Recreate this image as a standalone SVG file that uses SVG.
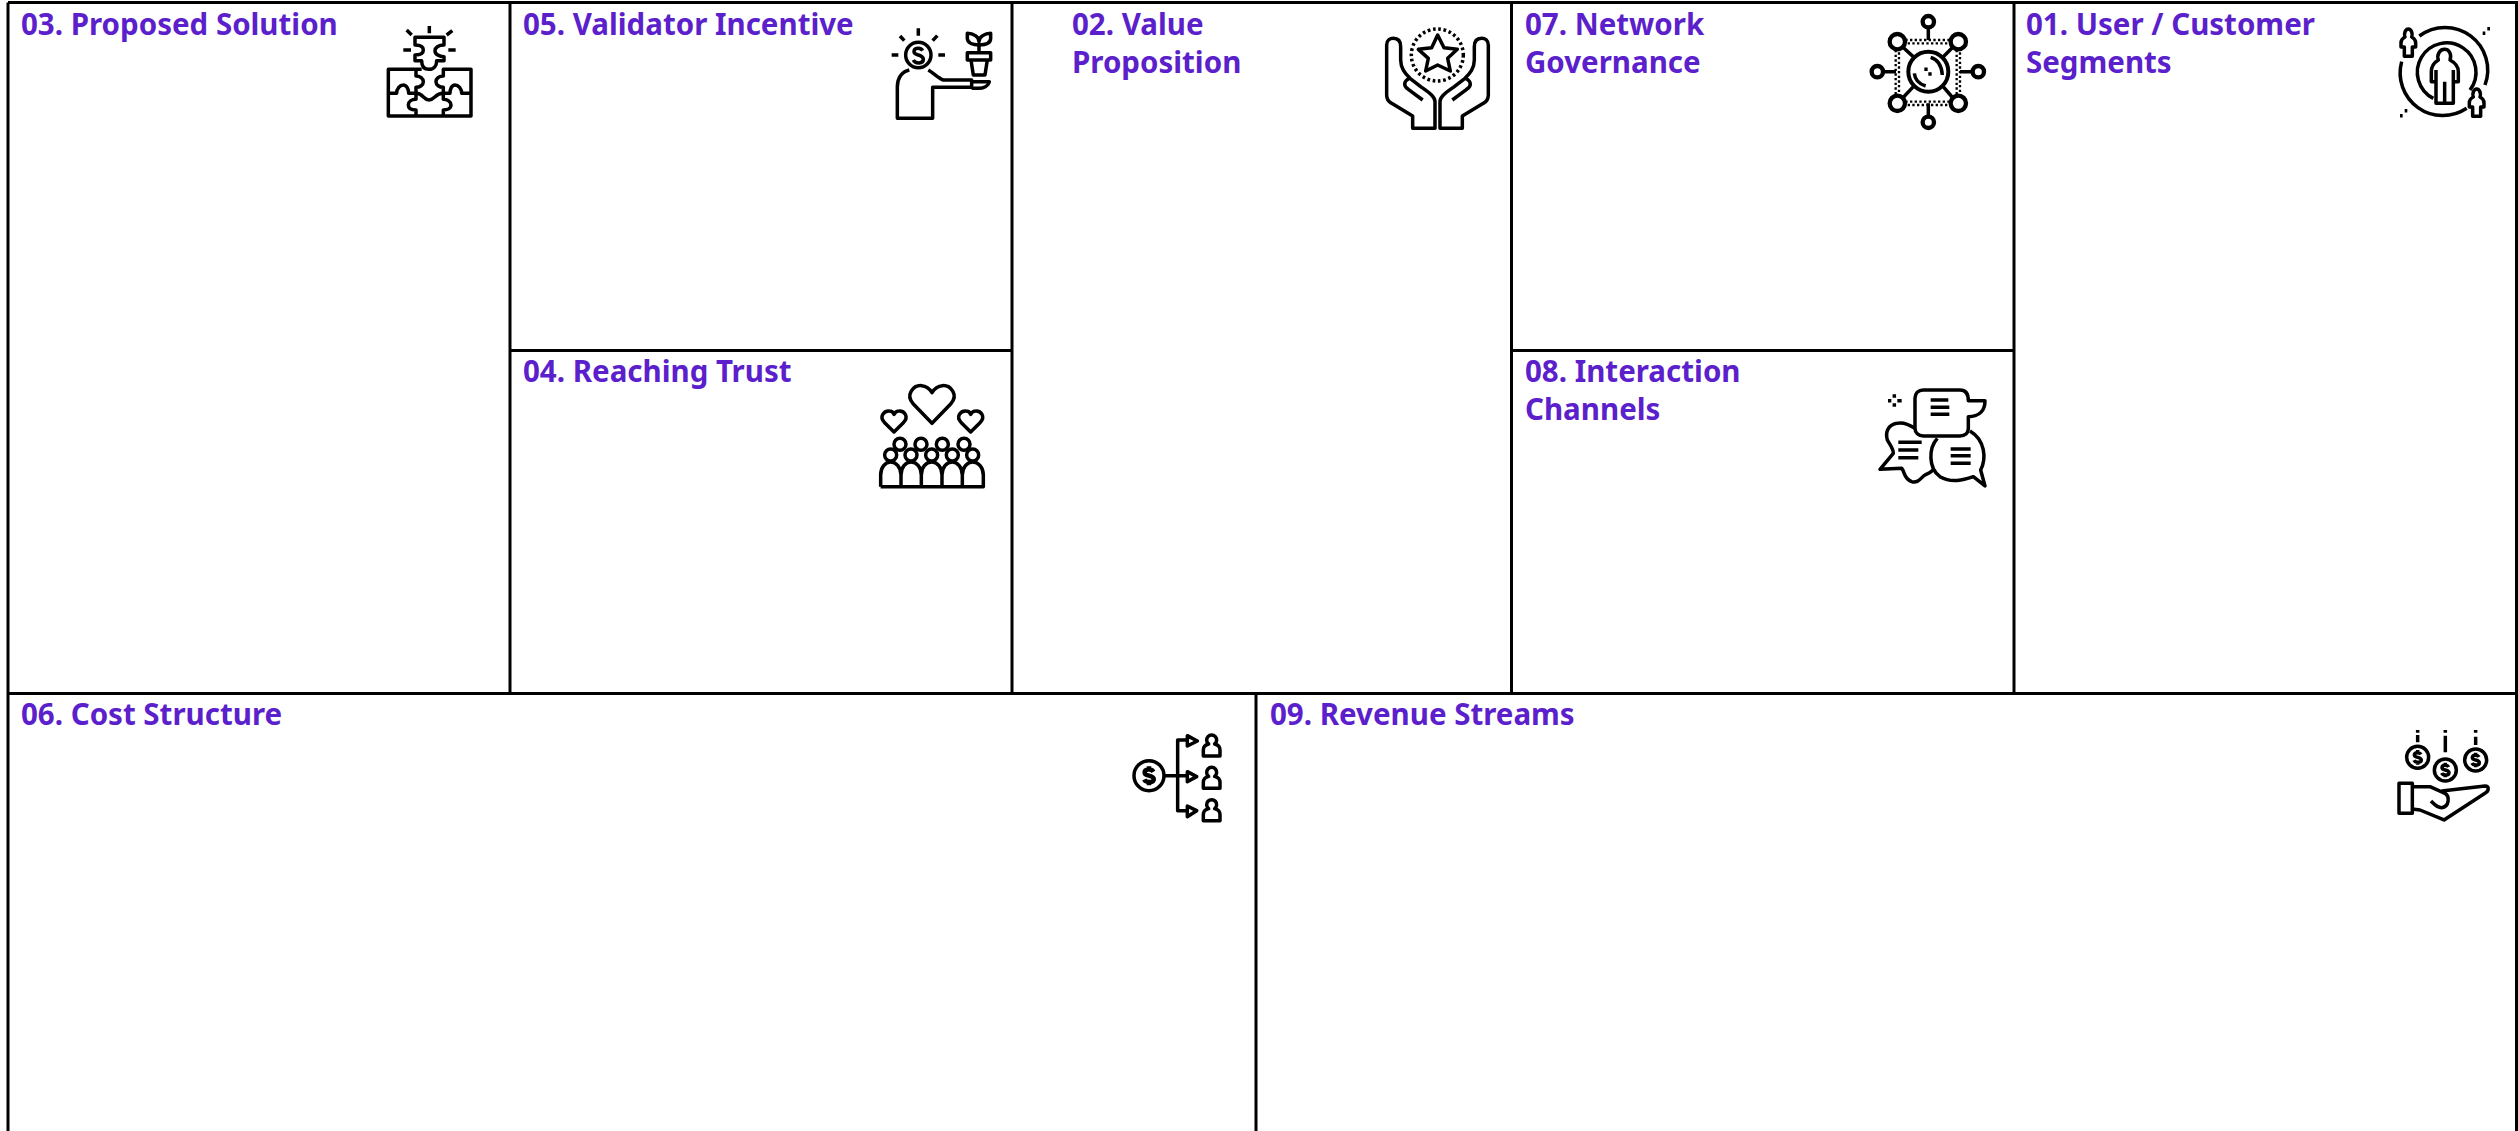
<svg xmlns="http://www.w3.org/2000/svg" width="2518" height="1131" viewBox="0 0 2518 1131">
<style>
.bg{fill:#fff}
.ln{stroke:#000;stroke-width:3;fill:none}
.t{font-family:"Noto Sans","Open Sans",sans-serif;font-weight:700;font-size:29.500px;fill:#5b1fcb}
.i{fill:none;stroke:#000;stroke-width:10.500;stroke-linejoin:round;stroke-linecap:butt}
</style>
<defs>
<path id="d" d="M10 -9C6 -16 -10 -16 -10 -7C-10 2 11 -2 11 8C11 17 -7 17 -11 9M0 -22V-14M0 15V22"/>
<path id="sp" d="M-10 -14C-14 -24 -9 -38 0 -38C9 -38 14 -24 10 -14C18 -10 22 -4 22 4V16H12V44H-12V16H-22V4C-22 -4 -18 -10 -10 -14Z"/>
<path id="cp" d="M-25 30V12C-25 2 -17 -4 -9 -6A15 15 0 1 1 9 -6C17 -4 25 2 25 12V30Z"/>
</defs>
<rect class="bg" width="2518" height="1131"/>
<g id="grid">
<path class="ln" d="M8 2.500H2516.500V1131M8 1131V2.500M8 693.500H2516.500M510 2.500V693.500M1012 2.500V693.500M1511.500 2.500V693.500M2014 2.500V693.500M510 350.500H1012M1511.500 350.500H2014M1256 693.500V1131"/>
</g>
<g id="cell-03">
<text class="t" x="21" y="35">03. Proposed Solution</text>
<g class="i" transform="translate(340 0) scale(.3333)">
<path d="M200 90L215 105M268 78V100M320 105L337 92M190 150H213M325 150H347"/>
<path d="M225 112H312V135C295 135 285 143 285 152C285 163 298 170 312 170V182H290C290 195 283 208 267 208C250 208 245 195 245 182H225V165C240 165 250 160 250 150C250 140 240 135 225 135Z"/>
<path d="M245 208H145V348H393V208H310V228C297 228 288 236 288 245C288 255 298 262 310 262V298C322 298 333 305 333 315C333 325 322 330 310 330V348M228 208V228C240 228 250 235 250 245C250 255 240 262 228 262V298C215 298 205 305 205 315C205 325 215 330 228 330V348"/>
<path d="M145 280H170C170 265 180 255 190 255C200 255 206 268 206 280H228M393 280H365C365 265 355 255 345 255C335 255 330 268 330 280H310M228 280C250 280 250 300 267 300C285 300 285 280 310 280"/>
</g>
</g>
<g id="cell-05">
<text class="t" x="523" y="35">05. Validator Incentive</text>
<g class="i" transform="translate(860 0) scale(.3333)">
<circle cx="175" cy="165" r="38"/>
<path d="M188 152C182 142 162 142 162 155C162 168 190 162 190 178C190 192 166 192 160 180"/>
<path d="M120 108L133 122M175 85V107M232 107L218 122M95 165H115M235 165H255"/>
<path d="M148 210C125 215 112 235 112 260V355H218V262H335V240H250C235 235 222 220 205 210"/>
<path d="M335 245H388C385 258 370 265 355 265H335"/>
<path d="M322 158H392V180H322ZM333 180L340 225H375L382 180M357 158V130"/>
<path d="M322 100V115C322 130 340 135 357 135C375 135 392 130 392 115V100C375 100 357 110 357 125C357 110 340 100 322 100Z"/>
</g>
</g>
<g id="cell-04">
<text class="t" x="523" y="382">04. Reaching Trust</text>
<g class="i" transform="translate(860 360) scale(.3333)">
<path d="M216 190L160 132C135 105 160 75 185 77C200 78 210 88 216 98C222 88 232 78 247 77C272 75 297 105 272 132Z"/>
<path d="M102 216L74 188C56 170 72 152 88 153C95 153 100 158 102 163C105 158 110 153 117 153C133 152 148 170 130 188Z"/>
<path d="M332 216L304 188C286 170 302 152 318 153C325 153 330 158 332 163C335 158 340 153 347 153C363 152 378 170 360 188Z"/>
<circle cx="120" cy="253" r="18"/><circle cx="183" cy="253" r="18"/><circle cx="247" cy="253" r="18"/><circle cx="312" cy="253" r="18"/>
<circle cx="92" cy="285" r="18"/><circle cx="153" cy="285" r="18"/><circle cx="215" cy="285" r="18"/><circle cx="277" cy="285" r="18"/><circle cx="338" cy="285" r="18"/>
<path d="M62 380H370V345C370 322 355 306 338 306C322 306 307 322 307 345V380M307 345C307 322 292 306 277 306C260 306 246 322 246 345V380M246 345C246 322 232 306 215 306C198 306 184 322 184 345V380M184 345C184 322 170 306 153 306C137 306 123 322 123 345V380M123 345C123 322 108 306 92 306C76 306 62 322 62 345V380"/>
</g>
</g>
<g id="cell-02">
<text class="t"><tspan x="1072" y="35">02. Value</tspan><tspan x="1072" y="73">Proposition</tspan></text>
<g class="i" transform="translate(1350 0) scale(.3333)">
<circle cx="262" cy="165" r="78" stroke-dasharray="8 8"/>
<path d="M263 105L282 143L322 148L293 175L301 213L263 195L227 213L235 175L205 148L245 143Z"/>
<g id="hand">
<path d="M188 385V348L125 310C115 305 110 295 110 285V135C110 120 120 115 130 115C145 115 152 125 152 140V180C152 205 165 220 180 235L215 262C240 280 255 290 255 305V385Z"/>
<path d="M178 235C160 245 160 258 175 268L218 300"/>
</g>
<use href="#hand" transform="translate(525 0) scale(-1 1)"/>
</g>
</g>
<g id="cell-07">
<text class="t"><tspan x="1525" y="35">07. Network</tspan><tspan x="1525" y="73">Governance</tspan></text>
<g class="i" transform="translate(1860 0) scale(.3333)" stroke-width="12">
<circle cx="205" cy="215" r="60" style="stroke-width:12"/>
<path d="M212 172C232 178 245 195 247 225M197 258C178 252 165 240 163 220"/>
<path d="M193 208H203M205 222H215"/>
<g style="stroke-width:13">
<circle cx="112" cy="125" r="23"/><circle cx="295" cy="125" r="23"/><circle cx="112" cy="310" r="23"/><circle cx="295" cy="310" r="23"/>
<circle cx="205" cy="65" r="17"/><circle cx="205" cy="367" r="17"/><circle cx="52" cy="215" r="17"/><circle cx="355" cy="215" r="17"/>
</g>
<path d="M128 141L163 173M279 141L247 173M128 294L163 257M279 294L247 257"/>
<path d="M205 82V120M205 310V350M69 215H108M300 215H338"/>
<path d="M136 120H272M143 130H272M136 305H272M143 315H272M107 150V285M117 157V285M290 150V285M300 157V285" stroke-dasharray="7 7" style="stroke-width:7"/>
</g>
</g>
<g id="cell-08">
<text class="t"><tspan x="1525" y="382">08. Interaction</tspan><tspan x="1525" y="420">Channels</tspan></text>
<g class="i" transform="translate(1860 360) scale(.3333)">
<path d="M190 90H300C315 90 325 100 325 122H375C375 150 360 170 325 170V205C325 220 315 228 300 228H190C175 228 165 218 165 205V115C165 100 175 90 190 90Z"/>
<path d="M212 120H265M212 142H268M212 163H268"/>
<path d="M232 235C205 265 205 325 240 350C275 370 310 360 340 350L375 378L362 330C380 295 375 240 330 213"/>
<path d="M272 267H332M272 287H332M272 310H332"/>
<path d="M165 205C150 195 130 185 110 190C85 195 75 215 82 240C90 255 100 265 100 280L60 328L125 325C135 335 130 355 155 365C175 372 185 350 195 345C205 342 215 335 222 328"/>
<path d="M115 247H185M115 270H175M115 293H175"/>
<path d="M103 103V113M103 130V140M84 122H94M112 122H125"/>
</g>
</g>
<g id="cell-01">
<text class="t"><tspan x="2026" y="35">01. User / Customer</tspan><tspan x="2026" y="73">Segments</tspan></text>
<g class="i" transform="translate(2370 0) scale(.3333)">
<path d="M148 108A128 128 0 0 1 345 255M290 325A128 128 0 0 1 95 185M190 295A88 88 0 1 1 300 270"/>
<path d="M205 180C200 165 208 148 224 148C238 148 246 165 240 180C255 188 265 200 265 215V245H250V310H198V245H184V215C184 200 192 188 205 180ZM198 210V245M250 210V245M224 245V310"/>
<use href="#sp" transform="translate(115 125)"/>
<use href="#sp" transform="translate(320 305)"/>
<path d="M338 100H346M352 86H360M90 347H98M104 332H112"/>
</g>
</g>
<g id="cell-06">
<text class="t" x="21" y="725">06. Cost Structure</text>
<g class="i" transform="translate(1110 720) scale(.3333)">
<circle cx="117" cy="167" r="45"/>
<use href="#d" transform="translate(117 167) scale(1.3)"/>
<path d="M165 167H235M235 60H203V272H235"/>
<path d="M232 47L262 63L232 78ZM232 155L260 170L232 185ZM232 258L260 272L232 290Z"/>
<use href="#cp" transform="translate(305 78)"/>
<use href="#cp" transform="translate(305 175)"/>
<use href="#cp" transform="translate(305 272)"/>
</g>
</g>
<g id="cell-09">
<text class="t" x="1270" y="725">09. Revenue Streams</text>
<g class="i" transform="translate(2370 715) scale(.3333)">
<circle cx="143" cy="127" r="33"/><circle cx="226" cy="165" r="33"/><circle cx="317" cy="135" r="33"/>
<use href="#d" transform="translate(143 127)"/>
<use href="#d" transform="translate(226 165)"/>
<use href="#d" transform="translate(317 135)"/>
<path d="M143 45V53M143 60V82M226 45V53M226 62V112M317 45V53M317 65V90"/>
<rect x="87" y="205" width="40" height="90"/>
<path d="M127 215H180L225 235C240 245 238 275 215 278C200 278 190 265 183 258M215 228L345 213C358 213 358 228 345 235L222 315L150 285L127 282"/>
</g>
</g>
</svg>
